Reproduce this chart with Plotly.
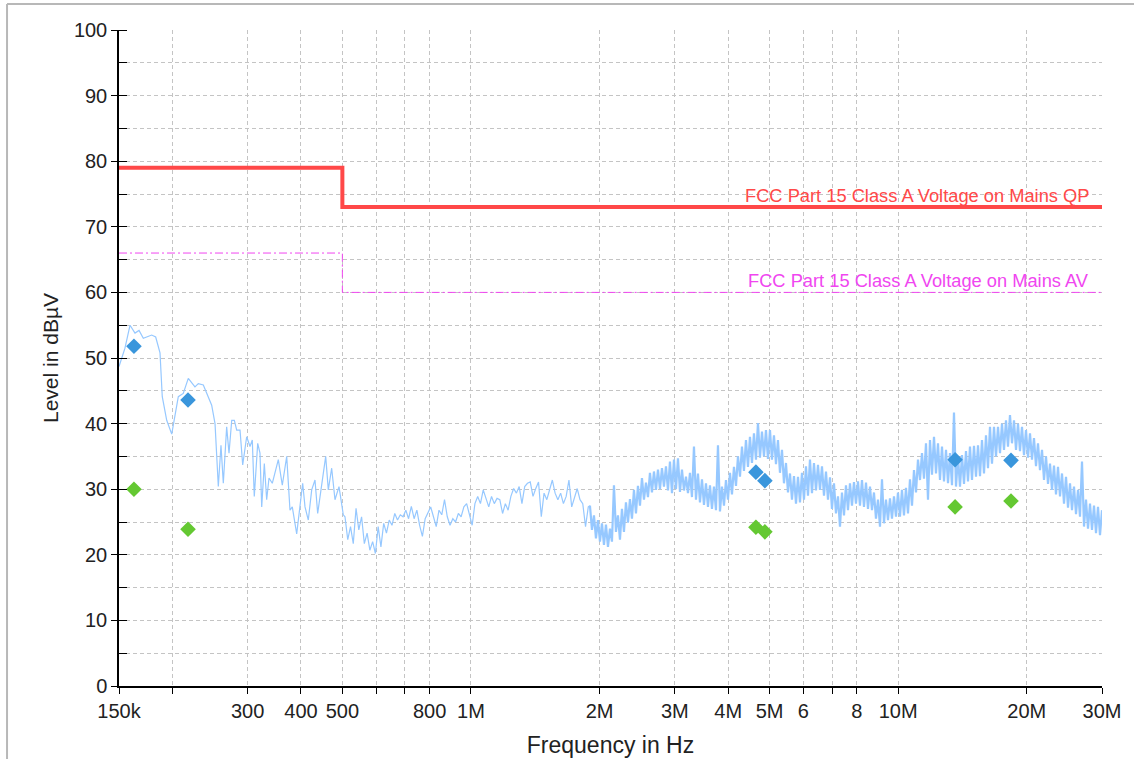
import numpy as np
import plotly.graph_objects as go

# ---------------- data ----------------
# limit lines (Hz, dBuV), drawn as steps
QP_LIMIT_FREQ = [150e3, 500e3, 30e6]
QP_LIMIT_LEVEL = [79, 73, 73]
AV_LIMIT_FREQ = [150e3, 500e3, 30e6]
AV_LIMIT_LEVEL = [66, 60, 60]

# final measurement points
QP_FREQ = [162.6e3, 217.6e3, 4.645e6, 4.875e6, 13.59e6, 18.37e6]
QP_LEVEL = [51.8, 43.6, 32.6, 31.3, 34.5, 34.4]
AV_FREQ = [162.6e3, 217.6e3, 4.645e6, 4.875e6, 13.59e6, 18.37e6]
AV_LEVEL = [30.0, 23.9, 24.2, 23.5, 27.3, 28.2]

# pre-scan trace, part A (explicit frequencies, kHz)
SEG_A_FREQ_KHZ = [150.0, 154.9, 159.2, 163.5, 167.1, 171.0, 178.9, 182.8, 187.1, 189.4,
                  194.0, 199.3, 206.5, 212.1, 217.9, 225.9, 230.0, 236.3, 247.2, 251.7,
                  256.2, 259.9, 263.2, 268.0, 271.4, 275.4, 279.3, 282.9, 288.0, 292.2,
                  298.5, 303.9, 307.7, 311.0, 316.8, 320.7, 323.7, 328.3, 332.5, 336.7,
                  342.7, 354.0, 361.7, 370.4, 377.0, 381.7, 390.9, 396.4, 403.7, 408.8,
                  416.1, 423.8, 431.4, 437.7, 447.3, 457.0, 463.5, 472.0, 480.5, 491.0,
                  502.5]
SEG_A_LEVEL = [48.7, 51.5, 55.0, 53.8, 54.2, 53.0, 53.5, 53.2, 50.8, 44.1,
               40.5, 38.4, 44.1, 44.6, 46.9, 45.6, 46.1, 45.9, 42.8, 40.0,
               30.4, 36.7, 30.9, 39.5, 35.5, 40.5, 40.5, 39.0, 39.0, 33.7,
               38.0, 36.5, 37.5, 28.9, 37.0, 35.5, 27.3, 33.9, 28.4, 31.7,
               30.9, 34.5, 30.6, 35.0, 26.8, 27.3, 23.2, 26.8, 30.9, 27.3,
               25.3, 29.9, 31.4, 26.3, 30.4, 35.0, 29.9, 33.2, 28.4, 30.4,
               26.1]

# part B: receiver sweep 507 kHz .. 1.88 MHz (levels read at even log steps)
SWEEP_B_START, SWEEP_B_STOP = 507.1e3, 1.882e6
SEG_B_LEVEL = [25.8, 22.3, 24.3, 21.7, 27.1, 23.8, 25.8, 21.7, 23.3, 20.7,
               22.0, 20.2, 24.3, 21.2, 24.8, 23.3, 25.3, 24.5, 26.3, 25.3,
               26.1, 25.8, 26.8, 25.5, 27.4, 25.5, 26.8, 24.5, 22.8, 25.5,
               26.3, 27.3, 25.8, 24.3, 26.8, 26.1, 28.4, 25.8, 24.5, 25.5,
               25.0, 26.3, 25.8, 27.3, 27.8, 26.3, 24.5, 27.8, 28.9, 27.8,
               29.9, 28.6, 27.3, 28.9, 27.8, 28.6, 28.4, 26.3, 27.8, 26.8,
               28.9, 30.1, 29.4, 30.4, 27.8, 30.4, 30.9, 31.1, 28.9, 30.1,
               31.1, 25.8, 29.4, 28.4, 29.9, 31.4, 29.4, 28.4, 29.4, 27.8,
               28.9, 31.4, 27.3, 28.9, 30.1, 28.4, 27.8, 24.3, 27.3]

# part C: receiver sweep 1.9 MHz .. 30 MHz (levels read at even log steps)
SWEEP_C_START, SWEEP_C_STOP = 1.899e6, 30e6
SEG_C_LEVEL = [27.5, 23.8, 26.0, 22.5, 25.3, 22.0, 24.8, 21.5, 24.6, 21.2,
               24.0, 22.0, 30.6, 23.5, 26.0, 22.3, 27.0, 23.5, 28.0, 24.9,
               28.5, 25.5, 29.9, 26.3, 30.5, 27.5, 31.7, 28.4, 31.0, 28.8,
               32.5, 29.5, 32.7, 29.9, 33.0, 30.0, 33.2, 30.4, 33.5, 29.8,
               34.2, 29.4, 34.5, 30.0, 34.7, 29.6, 33.0, 29.8, 31.9, 29.4,
               32.5, 28.8, 36.5, 28.4, 32.4, 28.0, 31.5, 27.6, 30.9, 27.3,
               30.6, 27.0, 30.4, 26.8, 36.7, 26.6, 30.4, 27.5, 31.4, 28.4,
               32.5, 29.2, 33.4, 30.5, 35.0, 31.9, 36.5, 32.8, 37.5, 33.4,
               38.0, 34.0, 38.5, 34.5, 40.1, 34.8, 38.8, 35.0, 39.0, 34.6,
               39.0, 34.5, 38.2, 33.8, 37.5, 32.5, 36.0, 30.9, 34.0, 29.5,
               32.4, 28.4, 32.0, 27.8, 31.9, 28.0, 32.5, 28.4, 33.5, 29.0,
               34.5, 29.4, 34.0, 29.8, 33.7, 29.9, 33.5, 29.0, 32.7, 28.4,
               31.8, 27.0, 30.9, 26.3, 28.9, 24.3, 29.5, 26.0, 30.6, 26.8,
               30.9, 27.5, 31.1, 27.8, 31.2, 27.5, 31.4, 27.3, 31.0, 27.0,
               30.4, 26.8, 29.5, 25.5, 28.4, 24.3, 31.5, 24.8, 28.4, 25.3,
               28.6, 25.5, 28.9, 25.8, 29.5, 25.8, 29.9, 26.0, 30.2, 26.3,
               31.5, 27.5, 32.9, 29.5, 34.5, 31.4, 35.5, 31.6, 37.0, 28.4,
               37.5, 32.2, 38.0, 32.4, 37.0, 31.4, 36.5, 31.2, 36.0, 30.9,
               35.5, 30.6, 41.7, 30.4, 35.0, 30.4, 35.2, 30.8, 35.8, 31.2,
               36.5, 31.4, 36.6, 31.9, 36.7, 32.0, 37.5, 32.4, 38.2, 33.2,
               39.5, 33.9, 39.5, 35.0, 39.5, 35.5, 40.0, 36.0, 40.5, 36.5,
               41.3, 37.0, 40.5, 36.0, 40.0, 35.8, 39.5, 35.2, 39.0, 34.8,
               38.5, 34.5, 37.8, 33.5, 37.0, 32.9, 36.0, 31.4, 35.0, 30.8,
               33.9, 29.9, 33.6, 29.2, 33.4, 28.9, 32.4, 27.8, 31.9, 27.2,
               30.9, 26.8, 30.4, 26.2, 29.9, 25.8, 34.2, 24.3, 28.4, 24.0,
               27.8, 23.8, 27.5, 23.3, 27.3, 23.0, 26.8]

# axis ticks
X_TICK_VALS = [150e3, 200e3, 300e3, 400e3, 500e3, 600e3, 700e3, 800e3, 1e6,
               2e6, 3e6, 4e6, 5e6, 6e6, 7e6, 8e6, 10e6, 20e6, 30e6]
X_TICK_TEXT = ["150k", "", "300", "400", "500", "", "", "800", "1M",
               "2M", "3M", "4M", "5M", "6", "", "8", "10M", "20M", "30M"]
Y_TICK_VALS = list(range(0, 101, 10))

# ---------------- build ----------------
freq_a = list(np.array(SEG_A_FREQ_KHZ) * 1e3)
freq_b = list(np.geomspace(SWEEP_B_START, SWEEP_B_STOP, len(SEG_B_LEVEL)))
freq_c = list(np.geomspace(SWEEP_C_START, SWEEP_C_STOP, len(SEG_C_LEVEL)))

FONT = "Liberation Sans, Arial, sans-serif"
GRID = "#c4c4c4"
TRACE_COLOR = "rgb(150,200,255)"

fig = go.Figure()
fig.add_trace(go.Scatter(x=freq_a + freq_b + freq_c[:1],
                         y=SEG_A_LEVEL + SEG_B_LEVEL + SEG_C_LEVEL[:1],
                         mode="lines", line=dict(color=TRACE_COLOR, width=1.2),
                         hoverinfo="skip"))
fig.add_trace(go.Scatter(x=freq_c, y=SEG_C_LEVEL, mode="lines",
                         line=dict(color=TRACE_COLOR, width=2.2),
                         hoverinfo="skip"))
fig.add_trace(go.Scatter(x=QP_LIMIT_FREQ, y=QP_LIMIT_LEVEL, mode="lines",
                         line=dict(color="rgb(255,72,72)", width=4, shape="hv")))
fig.add_trace(go.Scatter(x=AV_LIMIT_FREQ, y=AV_LIMIT_LEVEL, mode="lines",
                         line=dict(color="rgb(240,70,240)", width=1,
                                   shape="hv", dash="8px,3px,2px,3px")))
fig.add_trace(go.Scatter(x=QP_FREQ, y=QP_LEVEL, mode="markers",
                         marker=dict(symbol="diamond", size=12,
                                     color="rgb(58,150,220)", line=dict(width=0))))
fig.add_trace(go.Scatter(x=AV_FREQ, y=AV_LEVEL, mode="markers",
                         marker=dict(symbol="diamond", size=12,
                                     color="rgb(100,200,50)", line=dict(width=0))))

fig.add_annotation(xref="paper", x=0.989, y=74.8, yref="y",
                   text="FCC Part 15 Class A Voltage on Mains QP",
                   showarrow=False, xanchor="right", yanchor="middle",
                   font=dict(family=FONT, size=18.3, color="rgb(255,72,72)"))
fig.add_annotation(xref="paper", x=0.989, y=61.8, yref="y",
                   text="FCC Part 15 Class A Voltage on Mains AV",
                   showarrow=False, xanchor="right", yanchor="middle",
                   font=dict(family=FONT, size=18.3, color="rgb(240,70,240)"))

# outer frame (left and top edges)
fig.add_shape(type="line", xref="paper", yref="paper",
              x0=-0.1139, x1=-0.1139, y0=-0.2, y1=1.0396,
              line=dict(color="#b8b8b8", width=2))
fig.add_shape(type="line", xref="paper", yref="paper",
              x0=-0.1139, x1=1.1, y0=1.0396, y1=1.0396,
              line=dict(color="#b8b8b8", width=2))

fig.update_layout(
    width=1134, height=759,
    margin=dict(l=119, r=32, t=30, b=73, autoexpand=False),
    paper_bgcolor="white", plot_bgcolor="white",
    showlegend=False,
    font=dict(family=FONT, size=20, color="#222222"),
)
fig.update_xaxes(
    type="log", range=[np.log10(150e3), np.log10(30e6)],
    tickmode="array", tickvals=X_TICK_VALS, ticktext=X_TICK_TEXT,
    showgrid=True, gridcolor=GRID, griddash="4px,3px", gridwidth=1,
    showline=True, linecolor="black", linewidth=1.5,
    ticks="outside", ticklen=6, tickcolor="black",
    tickfont=dict(family=FONT, size=20, color="#222222"),
    title=dict(text="Frequency in Hz", standoff=16,
               font=dict(family=FONT, size=23, color="#222222")),
    zeroline=False, automargin=False,
)
fig.update_yaxes(
    range=[0, 100], tickmode="array", tickvals=Y_TICK_VALS,
    showgrid=True, gridcolor=GRID, griddash="4px,3px", gridwidth=1,
    showline=True, linecolor="black", linewidth=1.5,
    ticks="outside", ticklen=6, tickcolor="black",
    minor=dict(dtick=5, tick0=0, showgrid=True, gridcolor=GRID,
               griddash="4px,3px", ticks="inside", ticklen=8, tickcolor="black"),
    tickfont=dict(family=FONT, size=20, color="#222222"),
    title=dict(text="Level in dBµV", standoff=10,
               font=dict(family=FONT, size=21, color="#222222")),
    zeroline=False, automargin=False,
)

fig.write_html("out.html")
